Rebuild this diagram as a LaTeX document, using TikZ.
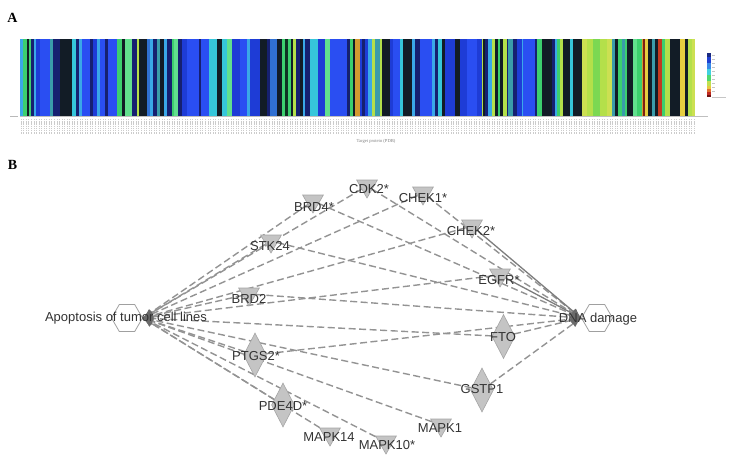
\documentclass[tikz,border=0pt]{standalone}
\usepackage{fontspec}
\setmainfont{Liberation Sans}
\newfontfamily\serifA{Liberation Serif}
\usetikzlibrary{shapes.geometric,arrows.meta,backgrounds}
\definecolor{cSky}{HTML}{3AA8E8}
\definecolor{cBlu}{HTML}{1E3CD6}
\definecolor{cBbr}{HTML}{2A4EF2}
\definecolor{cNav}{HTML}{162070}
\definecolor{cBlk}{HTML}{121C26}
\definecolor{cCyn}{HTML}{36C6DA}
\definecolor{cGrn}{HTML}{3CCF6E}
\definecolor{cLgr}{HTML}{62E08E}
\definecolor{cLim}{HTML}{B4E04A}
\definecolor{cYlg}{HTML}{CCE052}
\definecolor{cTeal}{HTML}{3A9CAA}
\definecolor{cDkg}{HTML}{0E3222}
\definecolor{cOrg}{HTML}{D49A30}
\definecolor{cRed}{HTML}{C23A20}
\definecolor{cDrd}{HTML}{7E2012}
\definecolor{cYel}{HTML}{E6CE40}
\definecolor{cMbl}{HTML}{3070D2}
\definecolor{cGr2}{HTML}{7CD852}
\definecolor{nodegray}{HTML}{C4C4C4}
\definecolor{nodeedge}{HTML}{A4A4A4}
\definecolor{hexedge}{HTML}{A0A0A0}
\definecolor{edgegray}{HTML}{939393}
\definecolor{arrgray}{HTML}{6A6A6A}
\definecolor{txtgray}{HTML}{333333}
\tikzset{
  kin/.style={regular polygon, regular polygon sides=3, shape border rotate=180,
    minimum size=24pt, inner sep=0pt, fill=nodegray, draw=nodeedge, line width=0.6pt},
  enz/.style={diamond, aspect=0.5, minimum width=23pt, minimum height=44pt,
    inner sep=0pt, fill=nodegray, draw=nodeedge, line width=0.6pt},
  fun/.style={regular polygon, regular polygon sides=6, minimum size=31pt,
    inner sep=0pt, fill=white, draw=hexedge, line width=0.8pt},
  lbl/.style={font=\fontsize{13}{13}\selectfont, text=txtgray, inner sep=0pt},
  dedge/.style={draw=edgegray, line width=1.4pt, dash pattern=on 7pt off 3.5pt,
    -{Latex[length=10pt,width=8pt,color=arrgray]}},
  sedge/.style={draw=edgegray!85!black, line width=1.3pt,
    -{Latex[length=10pt,width=8pt,color=arrgray]}},
  plabel/.style={font=\serifA\bfseries\fontsize{14}{14}\selectfont, inner sep=0pt}
}
\begin{document}
\begin{tikzpicture}[x=1pt,y=-1pt]
\useasboundingbox (0,0) rectangle (731,467);
% ---------------- Panel A ----------------
\node[plabel] (pA) at (12.5,17.5) {A};
\foreach \a/\b/\c in {20/22.5/cSky, 22.5/26.5/cGrn, 26.5/28.5/cBlk, 28.5/30.5/cGrn, 30.5/33.5/cNav, 33.5/35.5/cSky, 35.5/40/cBlu, 40/50/cBbr, 50/53/cTeal, 53/60/cNav, 60/72/cBlk, 72/76/cCyn, 76/79/cNav, 79/82/cSky, 82/90/cBbr, 90/93/cNav, 93/97/cBlu, 97/100/cSky, 100/105/cBbr, 105/108/cNav, 108/117/cBbr, 117/122/cGrn, 122/125/cBlk, 125/132/cLgr, 132/136.5/cNav, 136.5/138.5/cLim, 138.5/146.5/cBlk, 146.5/150/cMbl, 150/153/cSky, 153/157/cNav, 157/160/cTeal, 160/163.5/cBlk, 163.5/166.5/cSky, 166.5/171.5/cNav, 171.5/173.5/cGrn, 173.5/178/cLgr, 178/182/cNav, 182/187/cBlu, 187/199/cBbr, 199/201/cNav, 201/209/cBbr, 209/217/cCyn, 217/222/cBlk, 222/227/cCyn, 227/232/cLgr, 232/240/cBlu, 240/247/cBbr, 247/250/cSky, 250/260/cBlu, 260/267/cBlk, 267/270/cNav, 270/277/cMbl, 277/282/cBlk, 282/285/cGrn, 285/288/cDkg, 288/291/cGrn, 291/293/cBlk, 293/296/cLim, 296/300/cNav, 300/303/cBlk, 303/305/cSky, 305/310/cNav, 310/318/cCyn, 318/325/cBlu, 325/330/cLgr, 330/346.5/cBbr, 346.5/350/cNav, 350/353/cGrn, 353/355/cBlk, 355/360/cOrg, 360/361.7/cBlu, 361.7/365/cNav, 365/368.3/cBlu, 368.3/371.7/cSky, 371.7/375/cLim, 375/380/cTeal, 380/381.7/cLim, 381.7/390/cBlk, 390/393.3/cBlu, 393.3/400/cBbr, 400/403.3/cCyn, 403.3/411.7/cBlk, 411.7/415/cSky, 415/420/cNav, 420/431.7/cBbr, 431.7/435/cSky, 435/438.3/cNav, 438.3/441.7/cCyn, 441.7/445/cBlk, 445/455/cBlu, 455/460/cBlk, 460/466.7/cBlu, 466.7/476.7/cBbr, 476.7/481.7/cBlu, 481.7/483.3/cLim, 483.3/485/cBlk, 485/488.3/cNav, 488.3/491.7/cSky, 491.7/495/cLim, 495/498.3/cBlk, 498.3/500/cGrn, 500/503.3/cBlk, 503.3/506.7/cLim, 506.7/508.3/cNav, 508.3/513.3/cTeal, 513.3/516.7/cNav, 516.7/521.7/cBlu, 521.7/523.3/cSky, 523.3/535/cBbr, 535/536.7/cNav, 536.7/541.7/cGrn, 541.7/551.7/cBlk, 551.7/555/cNav, 555/556.7/cSky, 556.7/560/cGrn, 560/563.3/cLim, 563.3/570/cBlk, 570/573.3/cCyn, 573.3/581.7/cBlk, 581.7/586.7/cYlg, 586.7/593.3/cLim, 593.3/600/cGr2, 600/606.7/cLim, 606.7/611.7/cYlg, 611.7/615/cTeal, 615/618.3/cBlk, 618.3/621.7/cGrn, 621.7/625/cTeal, 625/626.7/cGrn, 626.7/633.3/cBlk, 633.3/636.7/cLgr, 636.7/641.7/cGrn, 641.7/643.3/cOrg, 643.3/645/cDrd, 645/648.3/cYel, 648.3/651.7/cBlk, 651.7/655/cTeal, 655/658.3/cBlk, 658.3/661.7/cRed, 661.7/665/cGrn, 665/670/cLim, 670/680/cBlk, 680/685/cYel, 685/688.3/cBlk, 688.3/691.7/cLim, 691.7/695/cYlg}
  {\fill[\c] (\a,39) rectangle ({min(\b+0.3,695)},116);}
% baseline and axis marks
\draw[gray!50, line width=0.5pt] (20,116.5) -- (708,116.5);
\draw[gray!55, line width=0.6pt] (10,116.5) -- (18,116.5);
\foreach \i in {0,...,263}
  {\draw[gray!40, line width=0.6pt, dash pattern=on 1.3pt off 0.9pt] ({21+\i*2.56},119) -- ({21+\i*2.56},134);}
\node[font=\serifA\fontsize{4.6}{5}\selectfont, text=gray, inner sep=0pt] (axt) at (376,141) {Target protein (PDB)};
% colour legend
\foreach \p/\q/\c in {53/57/1A2A80, 57/63/2040D0, 63/69/3A8AE8, 69/75/40D0E0, 75/81/50D870, 81/86/C0E050, 86/89/E8C840, 89/92/E07030, 92/95/C02820, 95/97/701010}
  {\definecolor{tmpc}{HTML}{\c}\fill[tmpc] (707,\p) rectangle (711,{\q+0.2});}
\foreach \y in {55,59,63,67,71,75,79,83,87,91}
  {\draw[gray!45, line width=0.5pt] (712,\y) -- (715,\y);}
\draw[gray!45, line width=0.5pt] (712,97) -- (726,97);
% ---------------- Panel B ----------------
\node[plabel] (pB) at (12.5,165) {B};
% function nodes
\node[fun] (apop) at (127,318) {};
\node[fun] (dna) at (597,318) {};
% gene nodes
\node[kin] (cdk2) at (367,186) {};
\node[kin] (brd4) at (313,201) {};
\node[kin] (chek1) at (423,193) {};
\node[kin] (chek2) at (472,226) {};
\node[kin] (stk24) at (271,241) {};
\node[kin] (egfr) at (500,275) {};
\node[kin] (brd2) at (249,294) {};
\node[kin] (mapk14) at (330,434) {};
\node[kin] (mapk10) at (386,442) {};
\node[kin] (mapk1) at (441,425) {};
\node[enz] (fto) at (503.5,336.5) {};
\node[enz] (ptgs2) at (255,355) {};
\node[enz] (gstp1) at (482,390) {};
\node[enz] (pde4d) at (283,405) {};
% edges behind the nodes
\begin{scope}[on background layer]
  \foreach \g in {cdk2,brd4,stk24,chek1,chek2,egfr,brd2,fto,ptgs2,gstp1,pde4d,mapk14,mapk10,mapk1}
    {\draw[dedge] (\g) -- (apop.east);}
  \foreach \g in {cdk2,brd4,stk24,chek1,brd2,fto,ptgs2,gstp1}
    {\draw[dedge] (\g) -- (dna.west);}
  \draw[sedge] (chek2) -- (dna.west);
  \draw[sedge] (egfr) -- (dna.west);
\end{scope}
% labels
\node[lbl] (tapop) at (126,318.5) {Apoptosis of tumor cell lines};
\node[lbl] (tdna) at (598,319) {DNA damage};
\node[lbl] (tcdk2) at (369,189) {CDK2*};
\node[lbl] (tbrd4) at (314,207) {BRD4*};
\node[lbl] (tchek1) at (423,198) {CHEK1*};
\node[lbl] (tchek2) at (471,231) {CHEK2*};
\node[lbl] (tstk24) at (270,246) {STK24};
\node[lbl] (tegfr) at (499,280) {EGFR*};
\node[lbl] (tbrd2) at (249,299) {BRD2};
\node[lbl] (tfto) at (503,337) {FTO};
\node[lbl] (tptgs2) at (256,356) {PTGS2*};
\node[lbl] (tgstp1) at (482,389) {GSTP1};
\node[lbl] (tpde4d) at (283,406) {PDE4D*};
\node[lbl] (tmapk14) at (329,437) {MAPK14};
\node[lbl] (tmapk10) at (387,445) {MAPK10*};
\node[lbl] (tmapk1) at (440,428) {MAPK1};
\end{tikzpicture}
\end{document}
